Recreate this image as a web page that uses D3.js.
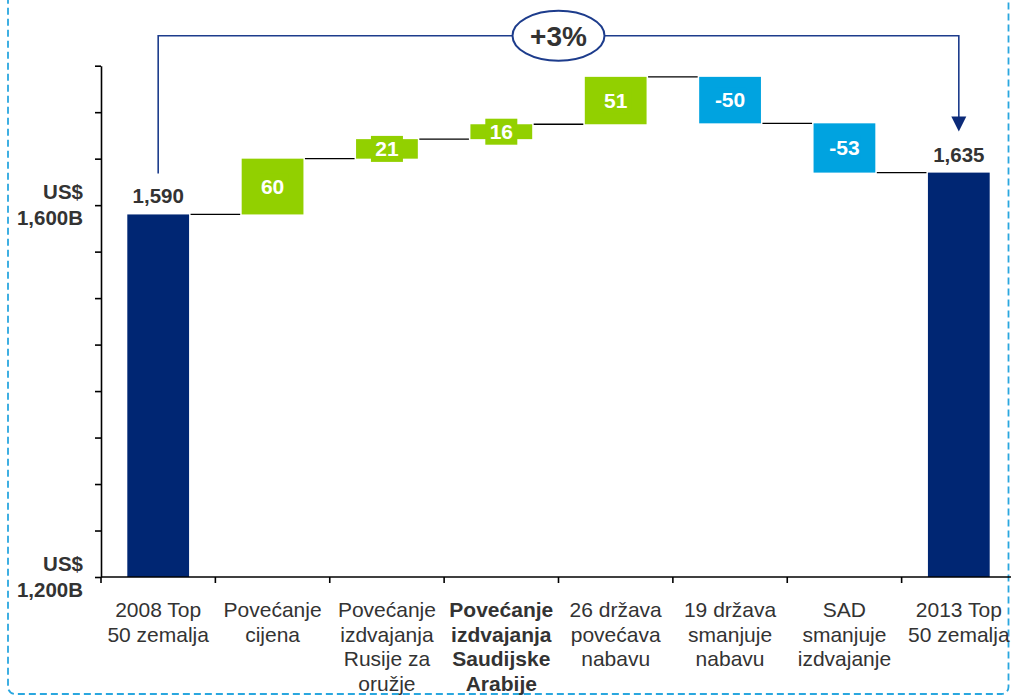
<!DOCTYPE html>
<html>
<head>
<meta charset="utf-8">
<script src="https://cdn.jsdelivr.net/npm/d3@7"></script>
<style>
  html, body { margin: 0; padding: 0; background: #fff; }
  svg { display: block; }
  text { font-family: "Liberation Sans", Arial, Helvetica, sans-serif; }
</style>
</head>
<body>
<svg id="chart" width="1011" height="696"></svg>
<script>
// Waterfall: top-50 countries' spending 2008 -> 2013 (US$ B)
const categories = [
  ["2008 Top", "50 zemalja"],
  ["Povećanje", "cijena"],
  ["Povećanje", "izdvajanja", "Rusije za", "oružje"],
  ["Povećanje", "izdvajanja", "Saudijske", "Arabije"],
  ["26 država", "povećava", "nabavu"],
  ["19 država", "smanjuje", "nabavu"],
  ["SAD", "smanjuje", "izdvajanje"],
  ["2013 Top", "50 zemalja"]
];
const values = [1590, 60, 21, 16, 51, -50, -53, 1635];
const kinds = ["total", "delta", "delta", "delta", "delta", "delta", "delta", "total"];
const boldCategory = [false, false, false, true, false, false, false, false];
const yTickValues = [1200, 1250, 1300, 1350, 1400, 1450, 1500, 1550, 1600, 1650, 1700, 1750];
const yLabelValues = [1200, 1600];
const yLabelLines = [["US$", "1,200B"], ["US$", "1,600B"]];

const NAVY = "#002673", GREEN = "#92d000", BLUE = "#00a3e0", INK = "#333333";

const svg = d3.select("#chart");

const x = d3.scaleBand()
  .domain(d3.range(categories.length))
  .range([101, 1016])
  .paddingInner(0.46)
  .paddingOuter(0.23);
const step = x.step();
const y = d3.scaleLinear().domain([1200, 1750]).range([577, 65.7]);

// running totals for the waterfall
let running = 0;
const bars = values.map((v, i) => {
  let lo, hi, end;
  if (kinds[i] === "total") { lo = 1200; hi = v; end = v; running = v; }
  else { const start = running; running += v; lo = Math.min(start, running); hi = Math.max(start, running); end = running; }
  return { i, v, kind: kinds[i], lo, hi, end };
});

// plain hyphen for negative numbers
const fmtInt = v => String(Math.round(v));

// dashed frame
svg.append("rect")
  .attr("x", 8).attr("y", -30).attr("width", 1000.5).attr("height", 724)
  .attr("rx", 7)
  .attr("fill", "none").attr("stroke", "#2aa7df")
  .attr("stroke-width", 1.8).attr("stroke-dasharray", "7,4");

// connectors between consecutive bars
svg.append("g").selectAll("line")
  .data(bars.slice(0, -1))
  .join("line")
  .attr("x1", d => x(d.i) + x.bandwidth() + 1.5)
  .attr("x2", d => x(d.i + 1) - 1.5)
  .attr("y1", d => y(d.end)).attr("y2", d => y(d.end))
  .attr("stroke", "#000").attr("stroke-width", 1.3);

const colorOf = d => d.kind === "total" ? NAVY : (d.v >= 0 ? GREEN : BLUE);

// bars
svg.append("g").selectAll("rect")
  .data(bars)
  .join("rect")
  .attr("x", d => x(d.i))
  .attr("width", x.bandwidth())
  .attr("y", d => y(d.hi))
  .attr("height", d => y(d.lo) - y(d.hi))
  .attr("fill", colorOf);

// label plates for change bars (visible only where the bar is thin)
const deltas = bars.filter(d => d.kind === "delta");
svg.append("g").selectAll("rect")
  .data(deltas)
  .join("rect")
  .attr("x", d => x(d.i) + x.bandwidth() / 2 - 16)
  .attr("width", 32)
  .attr("y", d => (y(d.lo) + y(d.hi)) / 2 - 13)
  .attr("height", 26)
  .attr("fill", colorOf);

// change values
svg.append("g").selectAll("text")
  .data(deltas)
  .join("text")
  .attr("x", d => x(d.i) + x.bandwidth() / 2)
  .attr("y", d => (y(d.lo) + y(d.hi)) / 2 + 7)
  .attr("text-anchor", "middle")
  .attr("fill", "#fff").attr("font-weight", "bold").attr("font-size", "21px")
  .text(d => fmtInt(d.v));

// total values
const totals = bars.filter(d => d.kind === "total");
svg.append("g").selectAll("text")
  .data(totals)
  .join("text")
  .attr("x", d => x(d.i) + x.bandwidth() / 2)
  .attr("y", d => y(d.hi) - 11)
  .attr("text-anchor", "middle")
  .attr("fill", INK).attr("font-weight", "bold").attr("font-size", "20.5px")
  .text(d => d3.format(",")(d.v));

// y axis
const yAxis = svg.append("g")
  .attr("transform", "translate(101,0)")
  .call(d3.axisLeft(y).tickValues(yTickValues).tickSize(6).tickSizeOuter(0).tickFormat(""));
yAxis.selectAll("path, line").attr("stroke", "#000").attr("stroke-width", 1.6);

const yLab = svg.append("g").selectAll("text")
  .data(yLabelValues)
  .join("text")
  .attr("text-anchor", "end")
  .attr("fill", INK).attr("font-weight", "bold").attr("font-size", "20.5px");
yLab.each(function (v, k) {
  const t = d3.select(this);
  yLabelLines[k].forEach((line, j) => {
    t.append("tspan").attr("x", 83).attr("y", y(v) + (j === 0 ? -6 : 20)).text(line);
  });
});

// x axis line and ticks at category boundaries
const xAxis = svg.append("g");
xAxis.append("line")
  .attr("x1", 101).attr("x2", x.range()[1]).attr("y1", 577).attr("y2", 577)
  .attr("stroke", "#000").attr("stroke-width", 1.6);
xAxis.selectAll("line.tick")
  .data(d3.range(categories.length + 1))
  .join("line").attr("class", "tick")
  .attr("x1", i => 101 + i * step).attr("x2", i => 101 + i * step)
  .attr("y1", 577).attr("y2", 583)
  .attr("stroke", "#000").attr("stroke-width", 1.6);

// category labels
svg.append("g").selectAll("text")
  .data(categories)
  .join("text")
  .attr("text-anchor", "middle")
  .attr("fill", INK).attr("font-size", "21px")
  .attr("font-weight", (d, i) => boldCategory[i] ? "bold" : "normal")
  .each(function (lines, i) {
    const cx = x(i) + x.bandwidth() / 2;
    lines.forEach((line, j) => {
      d3.select(this).append("tspan").attr("x", cx).attr("y", 617 + j * 24.5).text(line);
    });
  });

// overall change bracket
const first = totals[0], last = totals[totals.length - 1];
const lx = x(first.i) + x.bandwidth() / 2;
const rx = x(last.i) + x.bandwidth() / 2;
const by = 35.7;
const leftBottom = y(first.hi) - 41;
const rightTip = y(last.hi) - 41;
svg.append("path")
  .attr("d", `M${lx},${leftBottom}V${by}H${rx}V${rightTip - 14}`)
  .attr("fill", "none").attr("stroke", "#1d3c8c").attr("stroke-width", 1.6);
svg.append("path")
  .attr("d", `M${rx - 7.5},${rightTip - 15}L${rx + 7.5},${rightTip - 15}L${rx},${rightTip}Z`)
  .attr("fill", "#0c2a78");

const pct = (last.v - first.v) / first.v;
const cxm = (lx + rx) / 2;
svg.append("ellipse")
  .attr("cx", cxm).attr("cy", by).attr("rx", 46).attr("ry", 25)
  .attr("fill", "#fff").attr("stroke", "#1d3c8c").attr("stroke-width", 2);
svg.append("text")
  .attr("x", cxm).attr("y", by + 10)
  .attr("text-anchor", "middle")
  .attr("fill", INK).attr("font-weight", "bold").attr("font-size", "28px")
  .text((pct >= 0 ? "+" : "-") + Math.round(Math.abs(pct) * 100) + "%");
</script>
</body>
</html>
